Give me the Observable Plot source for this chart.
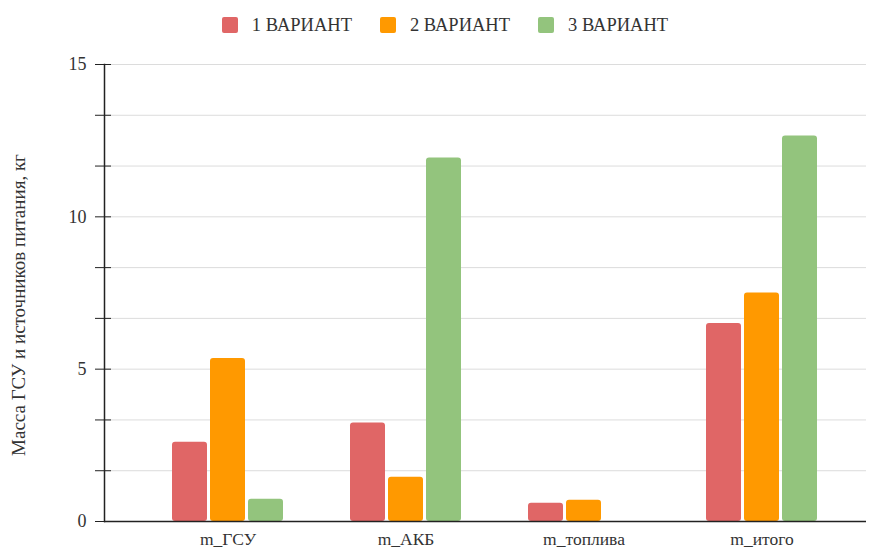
<!DOCTYPE html>
<html>
<head>
<meta charset="utf-8">
<script src="https://cdn.jsdelivr.net/npm/d3@7"></script>
<script src="https://cdn.jsdelivr.net/npm/@observablehq/plot@0.6"></script>
<style>
  body { margin: 0; background: #fff; font-family: 'Liberation Serif', 'DejaVu Serif', serif; }
  #legend { height: 50px; display: flex; justify-content: center; align-items: center; gap: 28px; padding-left: 16px; color: #333; font-size: 18.5px; font-family: 'Liberation Serif', serif; }
  #legend .item { display: flex; align-items: center; }
  #legend .sw { width: 16px; height: 16px; border-radius: 2px; margin-right: 14px; }
  #chart { position: relative; width: 874px; height: 498px; }
  #chart svg { position: absolute; left: 0; top: 0; font-family: 'Liberation Serif', serif; }
</style>
</head>
<body>
<div id="legend"></div>
<div id="chart"></div>
<script>
// Categories and series
const categories = ["m_ГСУ", "m_АКБ", "m_топлива", "m_итого"];
const series = ["1 ВАРИАНТ", "2 ВАРИАНТ", "3 ВАРИАНТ"];
const variant1 = [2.6, 3.23, 0.6, 6.5];
const variant2 = [5.35, 1.45, 0.7, 7.5];
const variant3 = [0.73, 11.93, 0, 12.65];
const colors = ["#e06666", "#ff9900", "#93c47d"];
const yLabel = "Масса ГСУ и источников питания, кг";
// y ticks every 5/3 kg, labelled at multiples of 5
const yTicks = d3.range(10).map(i => i * 5 / 3);

const values = [variant1, variant2, variant3];
const data = categories.flatMap((c, i) =>
  series.map((s, j) => ({category: c, series: s, value: values[j][i]}))
);

// Legend
const legend = document.getElementById("legend");
series.forEach((s, j) => {
  const item = document.createElement("div");
  item.className = "item";
  const sw = document.createElement("span");
  sw.className = "sw";
  sw.style.background = colors[j];
  const t = document.createElement("span");
  t.textContent = s;
  item.append(sw, t);
  legend.append(item);
});

const common = {
  width: 874,
  height: 498,
  marginTop: 14,
  marginLeft: 104,
  marginRight: 8,
  marginBottom: 27,
  y: {domain: [0, 15], axis: null}
};
const font = {fontFamily: "'Liberation Serif', serif", fontSize: "18px", color: "#333"};

// Background layer: grid lines spanning the full width, value axis, axis lines
const back = Plot.plot({
  ...common,
  style: {...font, background: "white"},
  marks: [
    Plot.ruleY(yTicks.slice(1), {stroke: "#dcdcdc", strokeWidth: 1}),
    Plot.axisY(yTicks, {
      tickSize: 9,
      tickPadding: 9,
      tickFormat: (d, i) => (i % 3 === 0 ? String(Math.round(d)) : ""),
      stroke: "#222",
      label: null,
      fontSize: 18
    }),
    Plot.axisY(yTicks, {tickSize: -7, tickFormat: () => "", stroke: "#222", label: null}),
    Plot.frame({anchor: "left", stroke: "#222", strokeWidth: 1.5}),
    // rotated value-axis title
    Plot.text([yLabel], {
      text: d => d,
      frameAnchor: "left",
      rotate: -90,
      dx: -86,
      dy: 12,
      textAnchor: "middle",
      fontSize: 19,
      fill: "#333"
    })
  ]
});

// Foreground layer: grouped bars faceted by category
const front = Plot.plot({
  ...common,
  style: {...font, background: "transparent"},
  fx: {domain: categories, paddingInner: 0.374, paddingOuter: 0.316, align: 0.58, label: null},
  x: {domain: series, paddingInner: 0.08, paddingOuter: 0, axis: null},
  color: {domain: series, range: colors},
  marks: [
    Plot.barY(data, {fx: "category", x: "series", y: "value", fill: "series", rx: 3}),
    Plot.axisFx({anchor: "bottom", tickSize: 0, tickPadding: 11, label: null, fontSize: 17.5})
  ]
});

// Baseline drawn on top of the bars
const base = Plot.plot({
  ...common,
  style: {background: "transparent"},
  marks: [Plot.ruleY([0], {stroke: "#222", strokeWidth: 1.5})]
});

const chart = document.getElementById("chart");
chart.append(back, front, base);
</script>
</body>
</html>
